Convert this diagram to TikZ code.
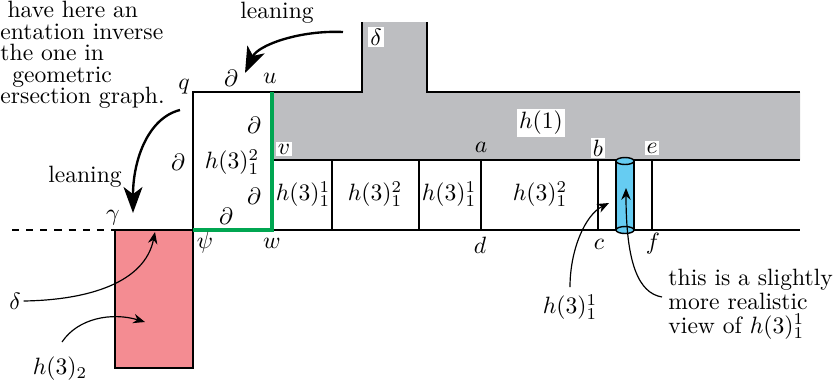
\documentclass[tikz,border=0pt]{standalone}
\usetikzlibrary{arrows.meta}
\definecolor{hgray}{RGB}{189,190,193}
\definecolor{hred}{RGB}{244,140,146}
\definecolor{hblue}{RGB}{102,204,242}
\definecolor{hgreen}{RGB}{0,166,81}
\tikzset{
	wall/.style={line width=0.6pt},
	lean/.style={line width=1pt, -{Stealth[length=11pt, width=8pt, inset=3pt]}},
	pointer/.style={line width=0.5pt, -{Stealth[length=5pt, width=4pt]}},
	lab/.style={inner sep=1pt},
	boxlab/.style={fill=white, inner sep=0.8pt},
	note/.style={align=left, inner sep=0pt},
}
\begin{document}
\begin{tikzpicture}[x=0.4237pt, y=-0.4237pt]
	\useasboundingbox (0,0) rectangle (838,385);
	% corners of the pieces
	\coordinate (q) at (193,92);
	\coordinate (u) at (272,92);
	\coordinate (v) at (272,160);
	\coordinate (w) at (272,230);
	\coordinate (psi) at (193,230);
	\coordinate (gamma) at (115,230);
	\coordinate (a) at (481,160);
	\coordinate (d) at (481,230);
	\coordinate (b) at (598,160);
	\coordinate (c) at (598,230);
	\coordinate (e) at (652,160);
	\coordinate (f) at (652,230);
	% h(1) with its stub
	\fill[hgray] (u) -- (362,92) -- (362,22) -- (427,22) -- (427,92) -- (800,92) -- (800,160) -- (v) -- cycle;
	\filldraw[wall, fill=hred] (gamma) rectangle (193,368);
	\draw[wall] (psi) -- (q) -- (u) -- (362,92) -- (362,22);
	\draw[wall] (427,22) -- (427,92) -- (800,92);
	\draw[wall] (v) -- (800,160);
	\draw[wall] (gamma) -- (800,230);
	\draw[wall, dashed] (12,230) -- (gamma);
	\foreach \x in {332,419,481,598,652}
		\draw[wall] (\x,160) -- (\x,230);
	\draw[hgreen, line width=1.5pt] (u) -- (w) -- (psi);
	% the cylinder
	\fill[hblue] (616,161) rectangle (634,230);
	\filldraw[wall, fill=hblue] (625,230) ellipse [x radius=9, y radius=3.5];
	\draw[wall] (616,161) -- (616,230);
	\draw[wall] (634,161) -- (634,230);
	\filldraw[wall, fill=hblue] (625,161) ellipse [x radius=9, y radius=3.5];
	% corner labels
	\node[lab] (lq) at (184,87) {$q$};
	\node[lab] (lu) at (270,78) {$u$};
	\node[boxlab] (lv) at (284,149) {$v$};
	\node[lab] (lw) at (272,243) {$w$};
	\node[lab] (lpsi) at (205,243) {$\psi$};
	\node[lab] (lgamma) at (113,218) {$\gamma$};
	\node[lab] (la) at (481,147) {$a$};
	\node[boxlab] (lb) at (598,148) {$b$};
	\node[boxlab] (le) at (652,148) {$e$};
	\node[lab] (ld) at (480,245) {$d$};
	\node[lab] (lc) at (599,244) {$c$};
	\node[lab] (lf) at (653,244) {$f$};
	% boundary marks
	\node[lab] (dtop) at (231,78) {$\partial$};
	\node[lab] (dright) at (254,125) {$\partial$};
	\node[lab] (dlow) at (254,196) {$\partial$};
	\node[lab] (dbot) at (226,216) {$\partial$};
	\node[lab] (dleft) at (178,162) {$\partial$};
	% pieces
	\node[lab] (hbox) at (232,162) {$h(3)^2_1$};
	\node[boxlab] (hone) at (541,123) {$h(1)$};
	\node[boxlab] (dstub) at (376,37) {$\delta$};
	\node[lab] (cell1) at (303,194) {$h(3)^1_1$};
	\node[lab] (cell2) at (375,194) {$h(3)^2_1$};
	\node[lab] (cell3) at (449,194) {$h(3)^1_1$};
	\node[lab] (cell4) at (540,194) {$h(3)^2_1$};
	% leaning arrows
	\node[lab] (lean1) at (277,13) {leaning};
	\node[lab] (lean2) at (85,177) {leaning};
	\coordinate (t1) at (343,32);
	\coordinate (h1) at (245,73);
	\coordinate (t2) at (180,110);
	\coordinate (h2) at (133,213);
	\draw[lean] (t1) .. controls (300,30) and (258,45) .. (h1);
	\draw[lean] (t2) .. controls (148,118) and (133,160) .. (h2);
	% pointers
	\node[lab] (ldelta) at (15,301) {$\delta$};
	\node[lab] (lh2) at (60,369) {$h(3)_2$};
	\node[lab] (lcyl) at (570,307) {$h(3)^1_1$};
	\node[note, anchor=north west, font=\fontsize{10}{10}\selectfont] (real) at (668,269)
		{this is a slightly\\more realistic\\view of $h(3)^1_1$};
	\node[note, anchor=north west, font=\fontsize{10}{9.1}\selectfont] (remark) at (0,1)
		{\hspace*{3pt}have here an\\entation inverse\\the one in\\\hspace*{5pt}geometric\\ersection graph.};
	\coordinate (pd) at (155,232);
	\coordinate (ph2t) at (62,342);
	\coordinate (ph2) at (145,322);
	\coordinate (pct) at (570,287);
	\coordinate (pc) at (609,203);
	\coordinate (prt) at (662,297);
	\coordinate (pr) at (626,188);
	\draw[pointer] (ldelta.east) .. controls (90,300) and (145,282) .. (pd);
	\draw[pointer] (ph2t) .. controls (78,318) and (112,312) .. (ph2);
	\draw[pointer] (pct) .. controls (570,250) and (585,215) .. (pc);
	\draw[pointer] (prt) .. controls (638,293) and (626,262) .. (pr);
\end{tikzpicture}
\end{document}
